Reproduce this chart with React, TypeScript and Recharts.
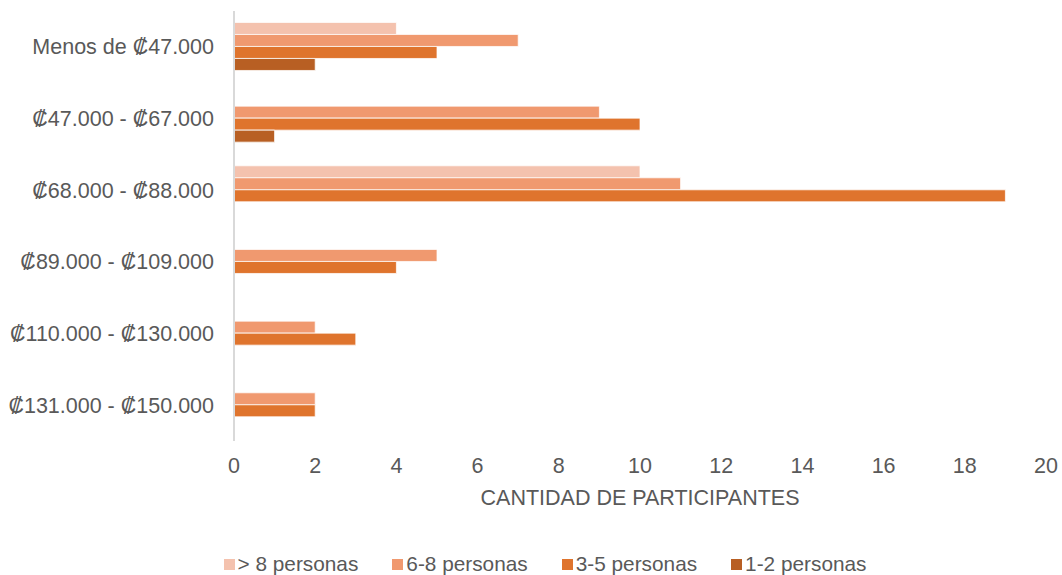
import React from "react";
import { BarChart, Bar, XAxis, YAxis, Legend } from "recharts";

// Income brackets (top to bottom)
const categories = [
  "Menos de ₡47.000",
  "₡47.000 - ₡67.000",
  "₡68.000 - ₡88.000",
  "₡89.000 - ₡109.000",
  "₡110.000 - ₡130.000",
  "₡131.000 - ₡150.000",
];

// Participants per household size
const masDe8 = [4, 0, 10, 0, 0, 0];
const de6a8 = [7, 9, 11, 5, 2, 2];
const de3a5 = [5, 10, 19, 4, 3, 2];
const de1a2 = [2, 1, 0, 0, 0, 0];

const xTicks = [0, 2, 4, 6, 8, 10, 12, 14, 16, 18, 20];

const seriesNames = ["> 8 personas", "6-8 personas", "3-5 personas", "1-2 personas"];
const seriesColors = ["#F4C2AE", "#F0996F", "#DF742D", "#B85F23"];

const data = categories.map((c, i) => ({
  categoria: c,
  s0: masDe8[i],
  s1: de6a8[i],
  s2: de3a5[i],
  s3: de1a2[i],
}));

const FONT = "'Liberation Sans', Arial, sans-serif";
const TEXT = "#595959";
const FS = 21.5;

// Legend items in series order
const LegendContent = () => (
  <div
    style={{
      display: "flex",
      justifyContent: "center",
      paddingLeft: 44,
      paddingTop: 41,
      fontFamily: FONT,
      fontSize: 20.8,
      color: TEXT,
      lineHeight: "24px",
    }}
  >
    {seriesNames.map((name, i) => (
      <div
        key={name}
        style={{ display: "flex", alignItems: "center", marginRight: i < 3 ? 34 : 0 }}
      >
        <span
          style={{
            display: "inline-block",
            width: 11,
            height: 11,
            background: seriesColors[i],
            marginRight: 3,
          }}
        />
        <span>{name}</span>
      </div>
    ))}
  </div>
);

export default function App() {
  return (
    <div style={{ position: "absolute", left: 0, top: 0, width: 1062, height: 575, background: "#fff" }}>
      <BarChart
        width={1062}
        height={575}
        data={data}
        layout="vertical"
        margin={{ top: 11, right: 16, bottom: 0, left: 0 }}
        barCategoryGap="16%"
        barGap={0}
      >
        <XAxis
          type="number"
          domain={[0, 20]}
          ticks={xTicks}
          axisLine={false}
          tickLine={false}
          tickSize={0}
          tickMargin={17}
          height={70}
          tick={{ fill: TEXT, fontSize: FS, fontFamily: FONT }}
          label={{
            value: "CANTIDAD DE PARTICIPANTES",
            position: "insideBottom",
            offset: 6,
            fill: TEXT,
            fontSize: FS,
            fontFamily: FONT,
          }}
        />
        <YAxis
          type="category"
          dataKey="categoria"
          width={234}
          axisLine={{ stroke: "#D9D9D9", strokeWidth: 2 }}
          tickLine={false}
          tickSize={0}
          tickMargin={20}
          interval={0}
          tick={{ fill: TEXT, fontSize: FS, fontFamily: FONT }}
        />
        <Legend verticalAlign="bottom" height={64} content={<LegendContent />} />
        {["s0", "s1", "s2", "s3"].map((k, i) => (
          <Bar
            key={k}
            dataKey={k}
            name={seriesNames[i]}
            fill={seriesColors[i]}
            stroke="#ffffff"
            strokeWidth={0.75}
            isAnimationActive={false}
          />
        ))}
      </BarChart>
    </div>
  );
}
